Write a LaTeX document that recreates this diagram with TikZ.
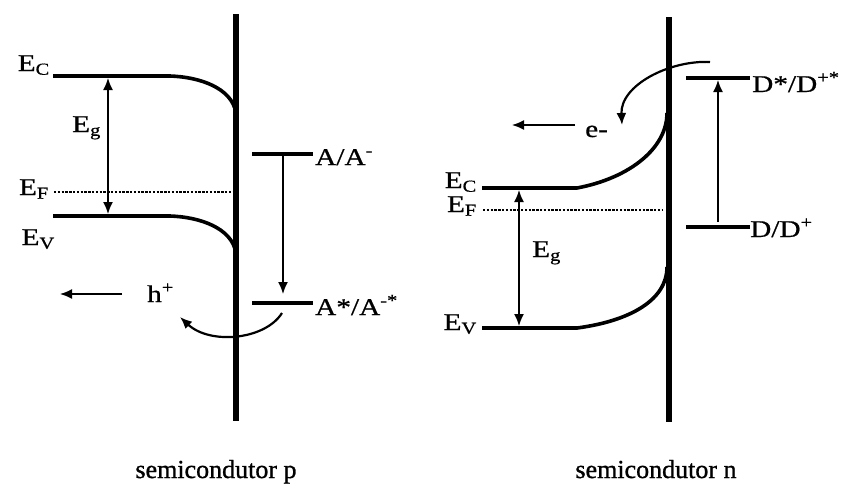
\documentclass[tikz,border=0pt]{standalone}
\usepackage{fontspec}
\setmainfont{Liberation Serif}
\newfontfamily\lblfont{Liberation Serif}[FakeStretch=1.22, FakeBold=0.7]
\newfontfamily\capfont{Liberation Serif}[FakeBold=1]
\usetikzlibrary{arrows.meta,positioning}
\tikzset{
  bandln/.style={line width=3.6pt},
  wallln/.style={line width=5.5pt},
  fermiln/.style={line width=2.4pt, dash pattern=on 2.4pt off 1.4pt},
  xfer/.style={-{Latex[length=12pt,width=10pt]}, line width=1.6pt},
  gaparrow/.style={{Latex[length=12pt,width=10pt]}-{Latex[length=12pt,width=10pt]}, line width=1.6pt},
  hop/.style={-{Latex[length=12pt,width=10pt]}, line width=2.2pt},
  lbl/.style={font=\lblfont\fontsize{24}{26}\selectfont, inner sep=0pt},
  caption/.style={font=\capfont\fontsize{26}{28}\selectfont, inner sep=0pt},
}

\begin{document}
\begin{tikzpicture}[x=1pt, y=-1pt]
\useasboundingbox (0,0) rectangle (846,483);

% =================================================================
% LEFT -- semicondutor p
% =================================================================
\coordinate (pwT) at (236,14);  \coordinate (pwB) at (236,421);
\draw[wallln] (pwT) -- (pwB);

\coordinate (pEc) at (53,76);   \coordinate (pEcK) at (170,76);  \coordinate (pEcW) at (236,113);
\coordinate (pEv) at (53,216);  \coordinate (pEvK) at (170,216); \coordinate (pEvW) at (236,253);
\draw[bandln] (pEc) -- (pEcK) .. controls (200,77) and (232,88) .. (pEcW);
\draw[bandln] (pEv) -- (pEvK) .. controls (200,217) and (232,228) .. (pEvW);
\coordinate (pEf) at (54,192);  \coordinate (pEfW) at (233,192);
\draw[fermiln] (pEf) -- (pEfW);

\coordinate (pgT) at (108,78);  \coordinate (pgB) at (108,214);
\draw[gaparrow] (pgT) -- (pgB);

\node[lbl, anchor=base east] (lEcp) at (50,71)  {E\textsubscript{C}};
\node[lbl, anchor=base west] (lEgp) at (72,132) {E\textsubscript{g}};
\node[lbl, anchor=base east] (lEfp) at (49,195) {E\textsubscript{F}};
\node[lbl, anchor=base east] (lEvp) at (55,245) {E\textsubscript{V}};

% acceptor levels
\coordinate (aG) at (252,154);  \coordinate (aGE) at (313,154);
\coordinate (aX) at (252,303);  \coordinate (aXE) at (313,303);
\draw[bandln] (aG) -- (aGE);
\draw[bandln] (aX) -- (aXE);
\node[lbl, anchor=base west] (lA)  at (315,165) {A/A\textsuperscript{-}};
\node[lbl, anchor=base west] (lAx) at (315,315) {A*/A\textsuperscript{-*}};

\coordinate (aArT) at (283,156); \coordinate (aArB) at (283,294);
\draw[xfer] (aArT) -- (aArB);

% hole injection
\coordinate (hS) at (282,313);  \coordinate (hE) at (180,317);
\draw[hop] (hS) .. controls (265,340) and (210,345) .. (hE);
\node[lbl, anchor=base west] (lh) at (147,302) {h\textsuperscript{+}};
\coordinate (hArS) at (122,294); \coordinate (hArE) at (60,294);
\draw[xfer] (hArS) -- (hArE);

\node[caption, anchor=base] (capP) at (216,478) {semicondutor p};

% =================================================================
% RIGHT -- semicondutor n
% =================================================================
\coordinate (nwT) at (669,17);  \coordinate (nwB) at (669,422);
\draw[wallln] (nwT) -- (nwB);

\coordinate (nEc) at (482,188); \coordinate (nEcK) at (577,188); \coordinate (nEcW) at (667,113);
\coordinate (nEv) at (482,328); \coordinate (nEvK) at (577,328); \coordinate (nEvW) at (667,267);
\draw[bandln] (nEc) -- (nEcK) .. controls (630,178) and (667,148) .. (nEcW);
\draw[bandln] (nEv) -- (nEvK) .. controls (630,321) and (667,300) .. (nEvW);
\coordinate (nEf) at (483,210); \coordinate (nEfW) at (662,210);
\draw[fermiln] (nEf) -- (nEfW);

\coordinate (ngT) at (519,190); \coordinate (ngB) at (519,326);
\draw[gaparrow] (ngT) -- (ngB);

\node[lbl, anchor=base east] (lEcn) at (477,188) {E\textsubscript{C}};
\node[lbl, anchor=base east] (lEfn) at (477,212) {E\textsubscript{F}};
\node[lbl, anchor=base west] (lEgn) at (532,257) {E\textsubscript{g}};
\node[lbl, anchor=base east] (lEvn) at (477,330) {E\textsubscript{V}};

% donor levels
\coordinate (dX) at (686,78);   \coordinate (dXE) at (750,78);
\coordinate (dG) at (686,227);  \coordinate (dGE) at (750,227);
\draw[bandln] (dX) -- (dXE);
\draw[bandln] (dG) -- (dGE);
\node[lbl, anchor=base west] (lDx) at (752,92)  {D*/D\textsuperscript{+*}};
\node[lbl, anchor=base west] (lD)  at (750,237) {D/D\textsuperscript{+}};

\coordinate (dArB) at (718,222); \coordinate (dArT) at (718,80);
\draw[xfer] (dArB) -- (dArT);

% electron injection
\coordinate (eS) at (710,62);   \coordinate (eE) at (622,125);
\draw[hop] (eS) .. controls (670,60) and (620,85) .. (eE);
\node[lbl, anchor=base west] (le) at (585,137) {e-};
\coordinate (eArS) at (575,125); \coordinate (eArE) at (512,125);
\draw[xfer] (eArS) -- (eArE);

\node[caption, anchor=base] (capN) at (656,478) {semicondutor n};

\end{tikzpicture}
\end{document}
